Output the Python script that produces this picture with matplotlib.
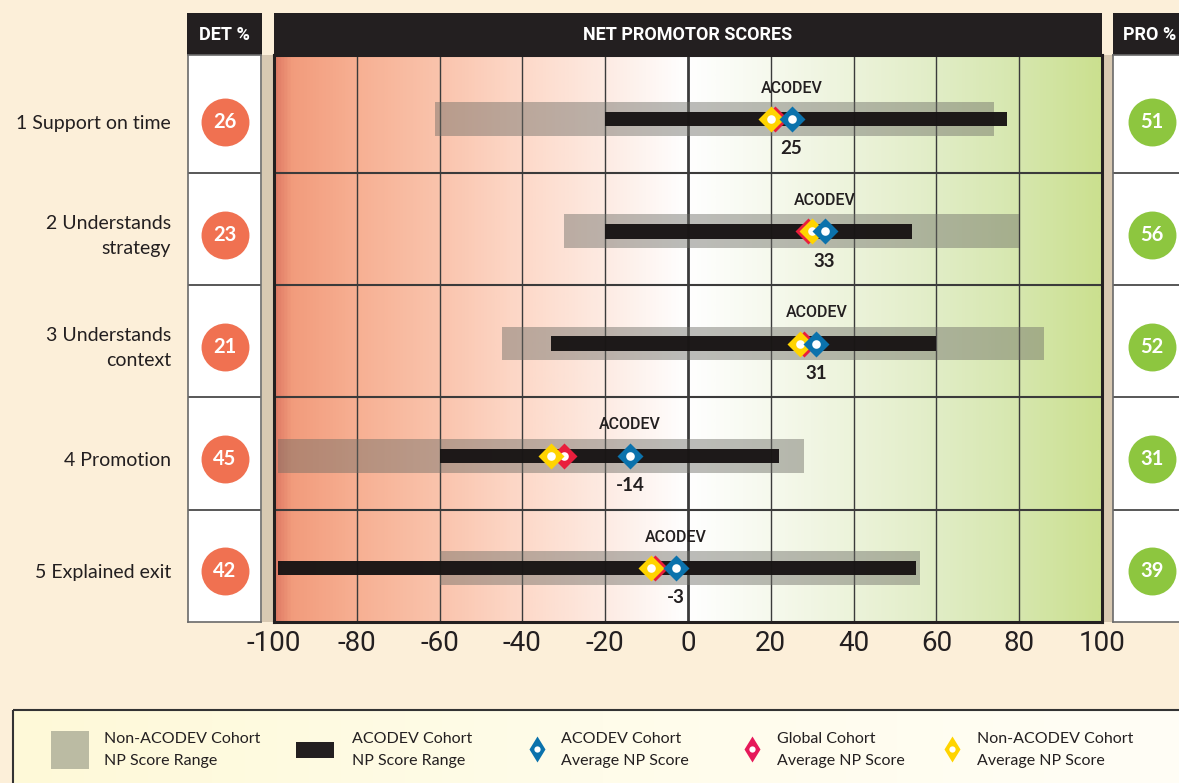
import numpy as np
import matplotlib
matplotlib.use("Agg")
import matplotlib.pyplot as plt
from matplotlib.patches import Rectangle
from matplotlib.colors import LinearSegmentedColormap
from matplotlib.transforms import blended_transform_factory

# ---------------- data ----------------
categories = ["1 Support on time", "2 Understands\nstrategy", "3 Understands\ncontext",
              "4 Promotion", "5 Explained exit"]
det_pct = [26, 23, 21, 45, 42]
pro_pct = [51, 56, 52, 31, 39]
non_range_lo = [-61, -30, -45, -99, -60]
non_range_hi = [74, 80, 86, 28, 56]
aco_range_lo = [-20, -20, -33, -60, -99]
aco_range_hi = [77, 54, 60, 22, 55]
aco_avg = [25, 33, 31, -14, -3]
global_avg = [21, 29, 28, -30, -8]
non_avg = [20, 30, 27, -33, -9]
ticks = [-100, -80, -60, -40, -20, 0, 20, 40, 60, 80, 100]
tick_labels = [str(t) for t in ticks]
legend_labels = ["Non-ACODEV Cohort\nNP Score Range", "ACODEV Cohort\nNP Score Range",
                 "ACODEV Cohort\nAverage NP Score", "Global Cohort\nAverage NP Score",
                 "Non-ACODEV Cohort\nAverage NP Score"]

# ---------------- style ----------------
BG = "#fcefd9"
DARK = "#231f20"
BLUE = "#0b72ac"
RED = "#e91e3c"
YELLOW = "#ffd400"
ORANGE = "#f07151"
GREEN = "#8dc63f"
ROWF = ["Lato", "DejaVu Sans"]
NARROW = ["Roboto", "DejaVu Sans"]

W, H = 1179, 783
fig = plt.figure(figsize=(W / 100, H / 100), dpi=100, facecolor=BG)


def fax(x0, y0, x1, y1, z=1):
    a = fig.add_axes([x0 / W, 1 - y1 / H, (x1 - x0) / W, (y1 - y0) / H])
    a.set_zorder(z)
    return a


# background / decoration axes in pixel coordinates
bg = fax(0, 0, W, H, z=0)
bg.set_xlim(0, W)
bg.set_ylim(H, 0)
bg.axis("off")

# headers
for (x0, x1, txt) in [(187, 262, "DET %"), (274, 1102, "NET PROMOTOR SCORES"), (1113, 1195, "PRO %")]:
    bg.add_patch(Rectangle((x0, 13), x1 - x0, 42, color=DARK, lw=0))
    cx = (x0 + x1) / 2 if txt != "PRO %" else 1150
    bg.text(cx, 35, txt, color="white", ha="center", va="center", fontsize=13,
            fontweight="bold", family=NARROW)
# shadow strips
bg.add_patch(Rectangle((262, 55), 12, 567, color="#d8c9b2", lw=0))
bg.add_patch(Rectangle((1102, 55), 11, 567, color="#d8c9b2", lw=0))

# legend
lcmap = LinearSegmentedColormap.from_list("leg", ["#fef9d8", "#fffcea", "#fffef6"])
bg.imshow(np.linspace(0, 1, 300)[None, :], cmap=lcmap, extent=[13, 1193, 790, 710],
          aspect="auto", interpolation="bilinear", zorder=0.5)
bg.set_xlim(0, W)
bg.set_ylim(H, 0)
bg.add_patch(Rectangle((13, 710), 1180, 80, fc="none", ec="#333333", lw=1.5, zorder=1))
bg.add_patch(Rectangle((51, 731), 38, 38, color="#bbbba3", lw=0, zorder=1))
bg.add_patch(Rectangle((296, 742), 38, 16, color=DARK, lw=0, zorder=1))
for cx, col in [(537, BLUE), (752, "#e6195a"), (952, YELLOW)]:
    bg.plot(cx, 749, "d", ms=13, color=col, mec="none", zorder=2)
    bg.plot(cx, 749, "o", ms=4.5, color="white", mec="none", zorder=3)
for tx, lab in zip([104, 352, 561, 777, 977], legend_labels):
    bg.text(tx, 750, lab, ha="left", va="center", fontsize=11.5, family=ROWF,
            color=DARK, linespacing=1.65, zorder=3)

YLIM = (4.5, -0.55)

# ---------------- main panel ----------------
ax = fax(274, 55, 1102, 622, z=2)
stops = [(0.0, "#e07c66"), (0.02, "#f29c7c"), (0.1, "#f7b093"), (0.2, "#fac4ad"),
         (0.3, "#fdd9c9"), (0.4, "#fdebe3"), (0.5, "#ffffff"), (0.6, "#f6f9ed"),
         (0.7, "#ecf3da"), (0.8, "#e1edc6"), (0.9, "#d6e7ae"), (1.0, "#cbe08f")]
cmap = LinearSegmentedColormap.from_list("nps", stops)
grad = np.linspace(0, 1, 800)[None, :]
ax.imshow(grad, cmap=cmap, extent=[-100, 100, YLIM[0], YLIM[1]], aspect="auto",
          interpolation="bilinear", zorder=0)
ax.set_xlim(-100, 100)
ax.set_ylim(*YLIM)

for t in ticks[1:-1]:
    ax.axvline(t, color="#3b3b3b", lw=2.0 if t == 0 else 1.0, zorder=1)
for i in range(len(categories) - 1):
    ax.axhline(i + 0.5, color="#3b3b3b", lw=1.5, zorder=1)

y = np.arange(len(categories)) + 0.02
ax.barh(y, np.array(non_range_hi) - np.array(non_range_lo), left=non_range_lo,
        height=0.30, color="#6b6b64", alpha=0.45, lw=0, zorder=2)
ax.barh(y, np.array(aco_range_hi) - np.array(aco_range_lo), left=aco_range_lo,
        height=0.13, color="#181414", alpha=0.97, lw=0, zorder=3)

for vals, col, z in [(global_avg, RED, 4), (non_avg, YELLOW, 5), (aco_avg, BLUE, 6)]:
    ax.plot(vals, y, "D", ms=13, color=col, mec="none", ls="none", zorder=z)
    ax.plot(vals, y, "o", ms=6.2, color="white", mec="none", ls="none", zorder=z + 0.1)

for i, v in enumerate(aco_avg):
    ax.text(v, y[i] - 0.275, "ACODEV", ha="center", va="center", fontsize=11.5,
            fontweight="medium", family=NARROW, color=DARK, zorder=7)
    ax.text(v, y[i] + 0.265, str(v), ha="center", va="center", fontsize=13.5,
            fontweight="bold", family=ROWF, color=DARK, zorder=7)

ax.set_xticks(ticks)
ax.set_xticklabels(tick_labels, fontsize=20, family=NARROW, color=DARK)
ax.tick_params(axis="x", length=0, pad=6)
ax.set_yticks([])
for s in ax.spines.values():
    s.set_color(DARK)
    s.set_linewidth(2.2)

# ---------------- side columns ----------------
def side(x0, x1, values, color):
    a = fax(x0, 55, x1, 622, z=2)
    a.set_facecolor("white")
    a.set_xlim(0, 1)
    a.set_ylim(*YLIM)
    a.set_xticks([])
    a.set_yticks([])
    for i in range(len(values) - 1):
        a.axhline(i + 0.5, color="#4a4a4a", lw=1.3)
    a.scatter([0.5] * len(values), np.arange(len(values)) + 0.05, s=1190,
              color=color, lw=0, zorder=3)
    for i, v in enumerate(values):
        a.text(0.5, i + 0.05, str(v), ha="center", va="center", color="white",
               fontsize=14.5, fontweight="bold", family=ROWF, zorder=4)
    for s in a.spines.values():
        s.set_color("#6a6a6a")
        s.set_linewidth(1.2)
    return a


ax_det = side(188, 261, det_pct, ORANGE)
ax_pro = side(1113, 1191, pro_pct, GREEN)

tr = blended_transform_factory(fig.transFigure, ax_det.transData)
for i, lab in enumerate(categories):
    ax_det.text(171 / W, i + 0.06, lab, transform=tr, ha="right", va="center",
                multialignment="right", fontsize=14, family=ROWF, color=DARK,
                linespacing=1.55, clip_on=False)

fig.savefig("out.png", dpi=100, facecolor=BG)
